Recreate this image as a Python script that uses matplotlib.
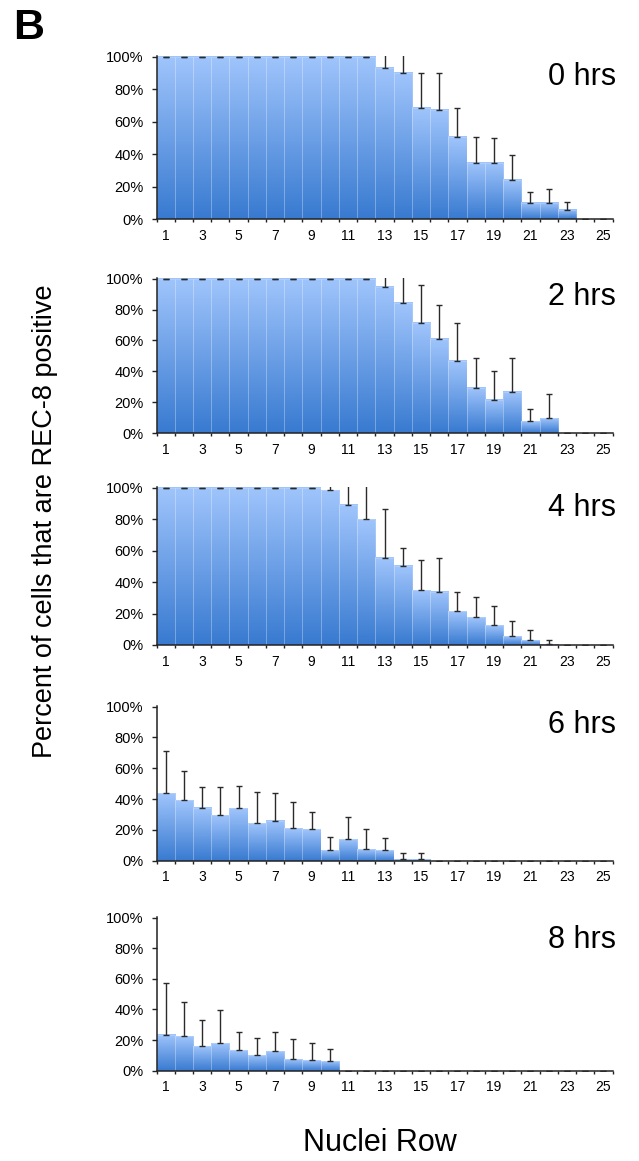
import numpy as np
import matplotlib
matplotlib.use('Agg')
import matplotlib.pyplot as plt

plt.rcParams['font.family'] = ['Liberation Sans', 'DejaVu Sans']

# ---------------- data ----------------
rows = list(range(1, 26))
tick_rows = list(range(1, 26, 2))
tick_labels = [str(r) for r in tick_rows]
y_ticks = [0, 20, 40, 60, 80, 100]
y_tick_labels = ['0%', '20%', '40%', '60%', '80%', '100%']
time_labels = ['0 hrs', '2 hrs', '4 hrs', '6 hrs', '8 hrs']

pct_0h = [100, 100, 100, 100, 100, 100, 100, 100, 100, 100, 100, 100,
          93, 90, 68.6, 67.4, 50.7, 35, 35, 24, 10, 10, 5.7, 0, 0]
err_0h = [0, 0, 0, 0, 0, 0, 0, 0, 0, 0, 0, 0,
          12, 14, 21.6, 22.4, 17.9, 15.9, 14.9, 15.9, 6.7, 8.7, 5.3, 0, 0]

pct_2h = [100, 100, 100, 100, 100, 100, 100, 100, 100, 100, 100, 100,
          94.6, 84.2, 71.5, 60.8, 46.9, 29.3, 21.4, 26.6, 7.7, 9.6, 0, 0, 0]
err_2h = [0, 0, 0, 0, 0, 0, 0, 0, 0, 0, 0, 0,
          10, 20, 24.4, 22.3, 24.2, 19.7, 18.9, 22.4, 7.7, 15.7, 0, 0, 0]

pct_4h = [100, 100, 100, 100, 100, 100, 100, 100, 100, 98.3, 89.1, 79.8,
          55.6, 50.5, 34.9, 33.9, 21.5, 17.7, 12.6, 5.7, 2.9, 0.6, 0, 0, 0]
err_4h = [0, 0, 0, 0, 0, 0, 0, 0, 0, 5, 15, 25,
          30.7, 11.2, 19.2, 21.5, 12.0, 12.6, 12.2, 9.7, 6.4, 2.8, 0, 0, 0]

pct_6h = [43.9, 39.4, 34.4, 29.7, 34.0, 24.3, 26.0, 21.3, 20.4, 6.7, 13.8, 7.3,
          6.9, 1.1, 1.1, 0, 0, 0, 0, 0, 0, 0, 0, 0, 0]
err_6h = [27.5, 18.9, 13.3, 18.0, 14.2, 20.6, 18.1, 17.0, 11.2, 9.0, 14.8, 13.3,
          7.9, 3.6, 3.6, 0, 0, 0, 0, 0, 0, 0, 0, 0, 0]

pct_8h = [23.6, 22.7, 16.2, 18.2, 13.4, 10.2, 12.8, 7.6, 6.7, 6.1, 0, 0,
          0, 0, 0, 0, 0, 0, 0, 0, 0, 0, 0, 0, 0]
err_8h = [33.8, 22.1, 16.7, 21.6, 11.9, 11.0, 12.3, 13.2, 11.7, 8.0, 0, 0,
          0, 0, 0, 0, 0, 0, 0, 0, 0, 0, 0, 0, 0]

series = [(pct_0h, err_0h), (pct_2h, err_2h), (pct_4h, err_4h),
          (pct_6h, err_6h), (pct_8h, err_8h)]

# ---------------- layout ----------------
W, H = 639, 1161
fig = plt.figure(figsize=(W / 100, H / 100), dpi=100)

left_px, right_px = 156.5, 612.5
panel_px = [(55.7, 219.5), (277.7, 433.3), (486.7, 645.0),
            (705.7, 860.7), (916.7, 1070.7)]
label_y_px = [77, 297, 508, 725, 940]

top_col = np.array([160, 197, 252]) / 255.0
bot_col = np.array([56, 122, 208]) / 255.0
grad = np.linspace(0, 1, 256)[:, None, None]
grad_img = bot_col[None, None, :] * (1 - grad) + top_col[None, None, :] * grad

axis_col = '#222222'

for i, ((vals, errs), (ytop, ybot)) in enumerate(zip(series, panel_px)):
    ax = fig.add_axes([left_px / W, 1 - ybot / H,
                       (right_px - left_px) / W, (ybot - ytop) / H])
    bars = ax.bar(rows, vals, width=1.0, color='none',
                  edgecolor=(1, 1, 1, 0.2), linewidth=0.6, zorder=2)
    for p in bars.patches:
        h = p.get_height()
        if h <= 0:
            continue
        x0 = p.get_x()
        w = p.get_width()
        ax.imshow(grad_img, extent=(x0, x0 + w, 0, h), origin='lower',
                  aspect='auto', interpolation='bilinear', zorder=1)
    ax.errorbar(rows, vals, yerr=[np.zeros(len(errs)), errs], fmt='none',
                ecolor='#2a2a2a', elinewidth=1.0, capsize=2.5, capthick=1.0,
                zorder=3)
    ax.set_xlim(0.5, 25.5)
    ax.set_ylim(0, 100.6)

    for s in ['top', 'right']:
        ax.spines[s].set_visible(False)
    for s in ['left', 'bottom']:
        ax.spines[s].set_color(axis_col)
        ax.spines[s].set_linewidth(1.1)

    ax.set_yticks(y_ticks)
    ax.set_yticklabels(y_tick_labels)
    ax.tick_params(axis='y', length=3.3, width=1.0, color=axis_col,
                   pad=6.0, labelsize=10.5)
    ax.set_xticks(tick_rows)
    ax.set_xticklabels(tick_labels)
    ax.set_xticks(np.arange(0.5, 26.0, 1.0), minor=True)
    ax.tick_params(axis='x', which='major', length=0, pad=7, labelsize=10)
    ax.tick_params(axis='x', which='minor', length=2.5, width=1.0,
                   color=axis_col)
    ax.set_facecolor('none')

    fig.text(616 / W, 1 - label_y_px[i] / H, time_labels[i], ha='right',
             va='center', fontsize=22)

fig.text(13 / W, 1 - 8 / H, 'B', fontsize=31, fontweight='bold',
         ha='left', va='top')
fig.text(45 / W, 1 - 521 / H, 'Percent of cells that are REC-8 positive',
         rotation=90, ha='center', va='center', fontsize=19.5)
fig.text(380 / W, 1 - 1143 / H, 'Nuclei Row', ha='center', va='center',
         fontsize=22)

fig.savefig('out.png', dpi=100)
